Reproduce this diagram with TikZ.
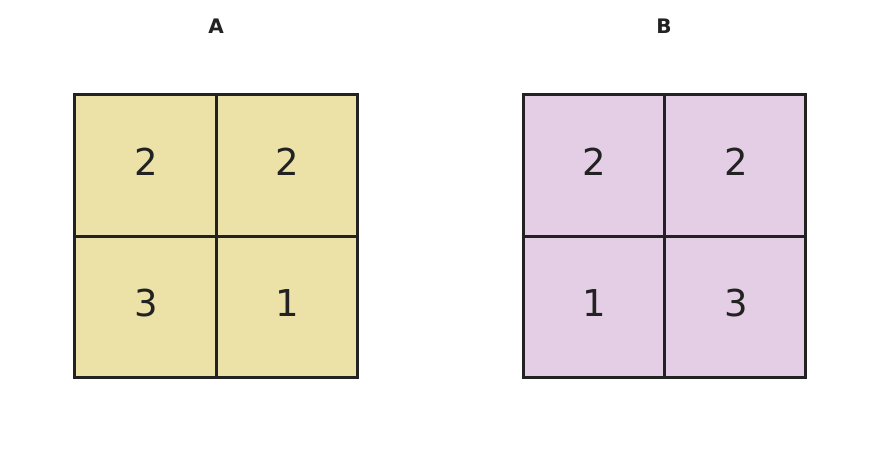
\documentclass[tikz,border=0pt]{standalone}
\usepackage{fontspec}
\setmainfont{DejaVu Sans}
\definecolor{gridA}{HTML}{ECE2A8}
\definecolor{gridB}{HTML}{E4CEE6}
\definecolor{ink}{HTML}{222222}
\newcommand{\cellnum}[1]{\raisebox{4pt}[\height][\depth]{\hspace{1.5pt}#1}}
\begin{document}
\begin{tikzpicture}
          [x=1pt,y=-1pt,
           cell/.style={draw=ink,line width=3pt,minimum size=141.3pt,inner sep=0pt,text=ink,
             font=\fontsize{37}{40}\selectfont},
           title/.style={text=ink,font=\bfseries\fontsize{20}{22}\selectfont}]
          \useasboundingbox (0,0) rectangle (880,452);
          \node[title] (tA) at (216,26.5) {A};
          \node[title] (tB) at (664,26.5) {B};

          \foreach \g/\x/\c/\a/\b/\cc/\d in {A/75/gridA/2/2/3/1,B/523.3/gridB/2/2/1/3} {
            \node[cell,fill=\c] (\g11) at (\x+70.6,165.6) {\cellnum{\a}};
            \node[cell,fill=\c] (\g12) at (\x+211.9,165.6) {\cellnum{\b}};
            \node[cell,fill=\c] (\g21) at (\x+70.6,306.9) {\cellnum{\cc}};
            \node[cell,fill=\c] (\g22) at (\x+211.9,306.9) {\cellnum{\d}};
          }

        \end{tikzpicture}
\end{document}
